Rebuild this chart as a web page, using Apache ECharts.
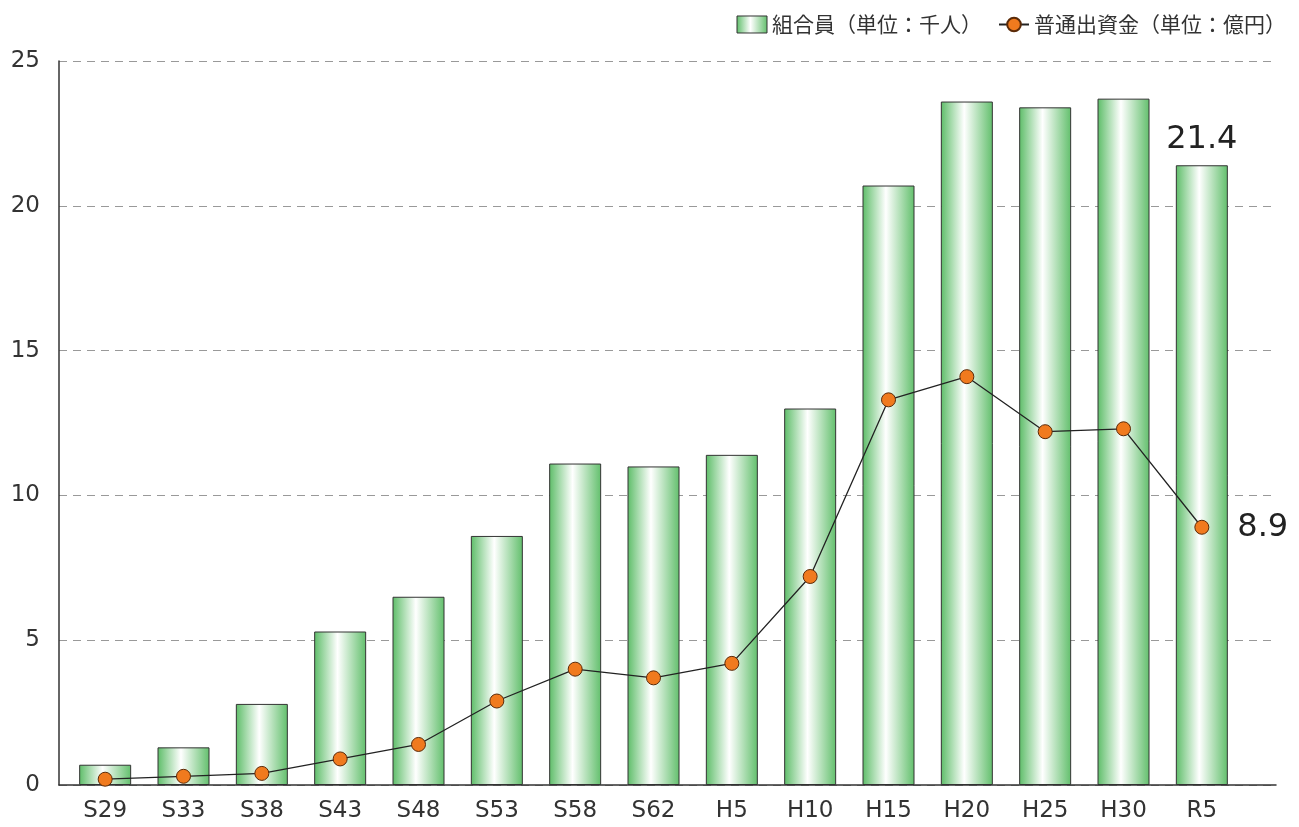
<!DOCTYPE html>
<html><head><meta charset="utf-8">
<script src="https://cdn.jsdelivr.net/npm/echarts@6/dist/echarts.min.js"></script>
<style>html,body{margin:0;padding:0;background:#fff}#c{width:1299px;height:827px}</style>
</head><body><div id="c"></div>
<script>
const categories = ['S29','S33','S38','S43','S48','S53','S58','S62','H5','H10','H15','H20','H25','H30','R5'];
const members = [0.7,1.3,2.8,5.3,6.5,8.6,11.1,11.0,11.4,13.0,20.7,23.6,23.4,23.7,21.4];
const capital = [0.2,0.3,0.4,0.9,1.4,2.9,4.0,3.7,4.2,7.2,13.3,14.1,12.2,12.3,8.9];
const yTicks = [0,5,10,15,20,25];
const seriesNames = ['組合員（単位：千人）','普通出資金（単位：億円）'];

const font = '"Noto Sans CJK JP", "Noto Sans", sans-serif';
const numFont = '"DejaVu Sans", sans-serif';
const green = new echarts.graphic.LinearGradient(0,0,1,0,[
  {offset:0,color:'#5dbd68'},{offset:0.45,color:'#ffffff'},{offset:1,color:'#62bf6c'}]);
const last = categories.length - 1;
const chart = echarts.init(document.getElementById('c'));
chart.setOption({
  backgroundColor:'#fff',
  animation:false,
  textStyle:{fontFamily:font},
  legend:{
    right:8, top:9, itemGap:16, itemWidth:30, itemHeight:17, itemTextGap:5,
    textStyle:{fontSize:21,color:'#333',fontFamily:font},
    data:[
      {name:seriesNames[0], icon:'rect', itemStyle:{color:green,borderColor:'#333',borderWidth:1}},
      {name:seriesNames[1]}
    ]
  },
  grid:[
    {left:59, right:23, top:61, bottom:42},
    {left:66, width:1175, top:61, bottom:42}
  ],
  xAxis:[
    {type:'category', gridIndex:0, data:categories, axisLine:{lineStyle:{color:'#333',width:1.5}},
     axisTick:{show:false}, axisLabel:{show:false}, splitLine:{show:false}},
    {type:'category', gridIndex:1, data:categories, axisLine:{show:false}, axisTick:{show:false},
     axisLabel:{fontSize:23,color:'#333',margin:15,fontFamily:numFont}}
  ],
  yAxis:[
    {type:'value', gridIndex:0, min:yTicks[0], max:yTicks[yTicks.length-1], interval:5,
     axisLine:{show:true,lineStyle:{color:'#333',width:1.5}}, axisTick:{show:false},
     axisLabel:{fontSize:23,color:'#333',margin:19,fontFamily:numFont},
     splitLine:{lineStyle:{color:'#999',type:[8,6],width:1}}},
    {type:'value', gridIndex:1, min:0, max:25, interval:5, show:false, splitLine:{show:false}}
  ],
  series:[
    {name:seriesNames[0], type:'bar', xAxisIndex:1, yAxisIndex:1, barWidth:52, data:members.map((v,i)=>({
      value:v,
      label: i===last ? {show:true, position:'top', distance:10, fontSize:32, color:'#222', fontFamily:numFont, formatter:'{c}'} : {show:false}
    })),
     itemStyle:{color:green, borderColor:'#333', borderWidth:1}, z:2},
    {name:seriesNames[1], type:'line', xAxisIndex:1, yAxisIndex:1, data:capital.map((v,i)=>({
      value:v,
      label: i===last ? {show:true, position:'right', distance:28, fontSize:32, color:'#222', fontFamily:numFont, formatter:'{c}'} : {show:false}
    })),
     symbol:'circle', symbolSize:14,
     lineStyle:{color:'#222',width:1.3},
     itemStyle:{color:'#f07a1e',borderColor:'#5a2a08',borderWidth:1}, z:3}
  ]
});
</script></body></html>
